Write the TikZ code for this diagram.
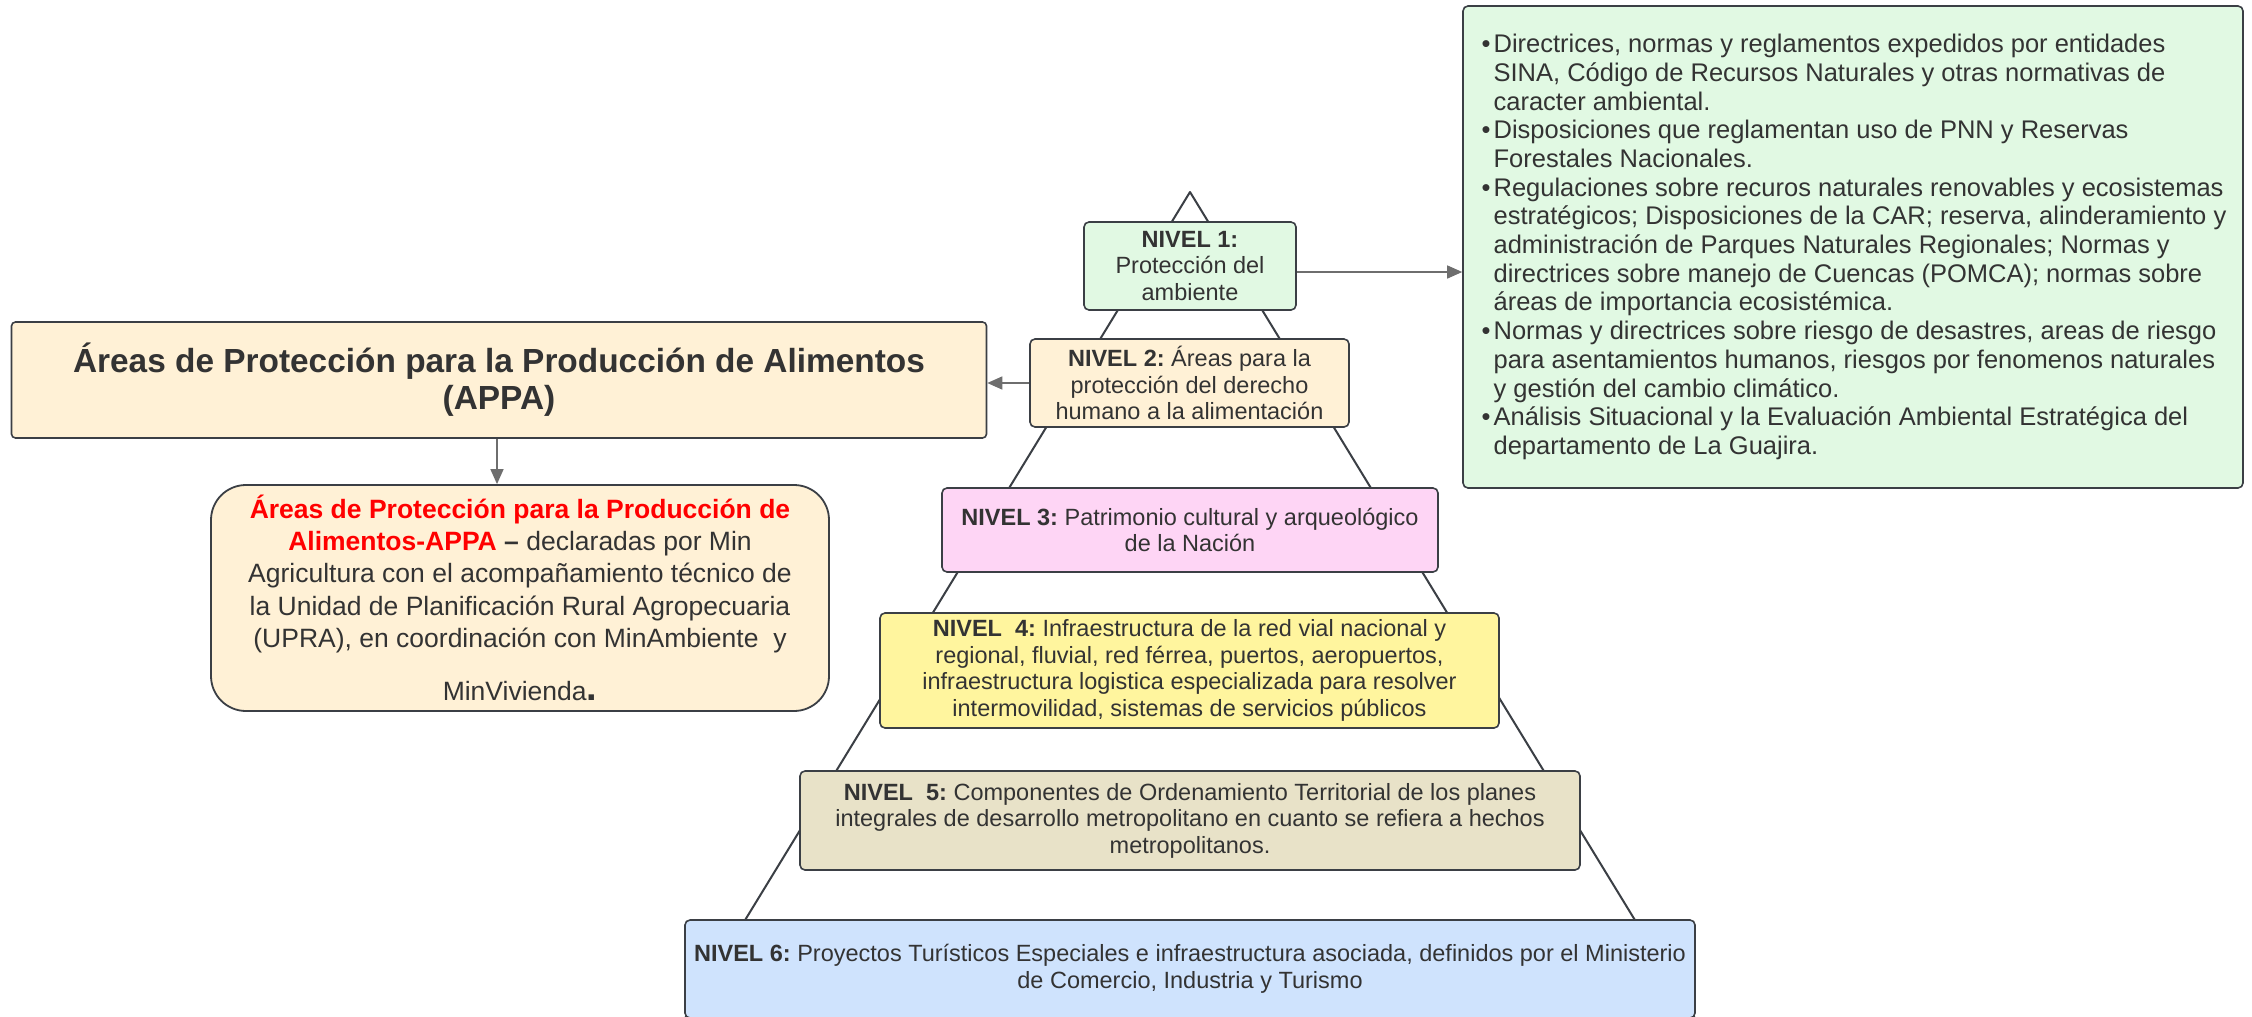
\documentclass[tikz,border=0pt]{standalone}
\usepackage{fontspec}
\setmainfont{Liberation Sans}
\usetikzlibrary{arrows.meta}
\definecolor{lineC}{HTML}{3B3F45}
\definecolor{txtC}{HTML}{333333}
\definecolor{arrC}{HTML}{6E6E6E}
\definecolor{greenF}{HTML}{E1F9E3}
\definecolor{creamF}{HTML}{FFF1D6}
\definecolor{pinkF}{HTML}{FED5F5}
\definecolor{yellowF}{HTML}{FFF59E}
\definecolor{beigeF}{HTML}{E8E2C8}
\definecolor{blueF}{HTML}{CFE3FD}
\definecolor{redT}{HTML}{FF0000}
\newcommand\bul{\makebox[14pt][l]{\hspace{2pt}\textbullet}}
\newcommand\cnt{\hspace*{14pt}}
\frenchspacing
\tikzset{
  lvlbox/.style={draw=lineC, line width=1.6pt, rounded corners=5pt, align=center,
    text=txtC, inner sep=0pt, font=\frenchspacing\fontsize{23.5}{26.5}\selectfont},
  tri/.style={draw=lineC, line width=2pt, line join=round},
  arr/.style={draw=arrC, line width=1.4pt, -{Triangle[length=15pt,width=13pt]}},
}
\begin{document}
\begin{tikzpicture}[x=1pt,y=-1pt]
\useasboundingbox (0,0) rectangle (2252,1017);
\fill[white] (0,0) rectangle (2252,1017);
% pyramid
\coordinate (apex) at (1190,192);
\coordinate (bl) at (684,1020);
\coordinate (br) at (1696,1020);
\draw[tri] (bl) -- (apex) -- (br);
% levels
\node[lvlbox, fill=greenF, minimum width=212, minimum height=88] (n1) at (1190,266)
  {\textbf{NIVEL 1:}\\Protección del\\ambiente};
\node[lvlbox, fill=creamF, minimum width=319, minimum height=88] (n2) at (1189.5,383)
  {\textbf{NIVEL 2:} Áreas para la\\protección del derecho\\humano a la alimentación};
\node[lvlbox, fill=pinkF, minimum width=496, minimum height=84] (n3) at (1190,530)
  {\textbf{NIVEL 3:} Patrimonio cultural y arqueológico\\de la Nación};
\node[lvlbox, fill=yellowF, minimum width=619, minimum height=115] (n4) at (1189.5,670.5)
  {\textbf{NIVEL\ \ 4:} Infraestructura de la red vial nacional y\\regional, fluvial, red férrea, puertos, aeropuertos,\\infraestructura logistica especializada para resolver\\intermovilidad, sistemas de servicios públicos};
\node[lvlbox, fill=beigeF, minimum width=780, minimum height=99] (n5) at (1190,820.5)
  {\textbf{NIVEL\ \ 5:} Componentes de Ordenamiento Territorial de los planes\\integrales de desarrollo metropolitano en cuanto se refiera a hechos\\metropolitanos.};
\node[lvlbox, fill=blueF, minimum width=1010, minimum height=98] (n6) at (1190,969)
  {\textbf{NIVEL 6:} Proyectos Turísticos Especiales e infraestructura asociada, definidos por el Ministerio\\de Comercio, Industria y Turismo};
% green box
\node[draw=lineC, line width=1.6pt, rounded corners=5pt, fill=greenF, text=txtC,
  minimum width=780, inner sep=0pt, minimum height=482, align=left,
  font=\frenchspacing\fontsize{25.5}{28.7}\selectfont] (g) at (1853,247)
  {\bul Directrices, normas y reglamentos expedidos por entidades\\
   \cnt SINA, Código de Recursos Naturales y otras normativas de\\
   \cnt caracter ambiental.\\
   \bul Disposiciones que reglamentan uso de PNN y Reservas\\
   \cnt Forestales Nacionales.\\
   \bul Regulaciones sobre recuros naturales renovables y ecosistemas\\
   \cnt estratégicos; Disposiciones de la CAR; reserva, alinderamiento y\\
   \cnt administración de Parques Naturales Regionales; Normas y\\
   \cnt directrices sobre manejo de Cuencas (POMCA); normas sobre\\
   \cnt áreas de importancia ecosistémica.\\
   \bul Normas y directrices sobre riesgo de desastres, areas de riesgo\\
   \cnt para asentamientos humanos, riesgos por fenomenos naturales\\
   \cnt y gestión del cambio climático.\\
   \bul Análisis Situacional y la Evaluación Ambiental Estratégica del\\
   \cnt departamento de La Guajira.};
% APPA title
\node[draw=lineC, line width=1.6pt, rounded corners=4pt, fill=creamF, text=txtC,
  minimum width=975, minimum height=116, align=center, inner sep=0pt,
  font=\frenchspacing\fontsize{33.4}{37}\selectfont\bfseries] (at) at (499,380)
  {Áreas de Protección para la Producción de Alimentos\\(APPA)};
% APPA description
\node[draw=lineC, line width=1.8pt, rounded corners=35pt, fill=creamF, text=txtC,
  minimum width=618, minimum height=226, align=center, inner sep=0pt,
  font=\frenchspacing\fontsize{26.5}{32.3}\selectfont] (ad) at (520,598)
  {{\color{redT}\bfseries Áreas de Protección para la Producción de}\\
   {\color{redT}\bfseries Alimentos-APPA} {\bfseries –} declaradas por Min\\
   Agricultura con el acompañamiento técnico de\\
   la Unidad de Planificación Rural Agropecuaria\\
   (UPRA), en coordinación con MinAmbiente\ \ y\\[21pt]
   MinVivienda{\fontsize{38}{38}\selectfont\bfseries .}};
% connectors
\draw[arr] ([yshift=-6pt]n1.east) -- ([yshift=-6pt]n1.east -| g.west);
\draw[arr] (n2.west) -- (n2.west -| at.east);
\draw[arr] ([xshift=-2pt]at.south) -- ([xshift=-2pt]at.south |- ad.north);
\end{tikzpicture}
\end{document}
